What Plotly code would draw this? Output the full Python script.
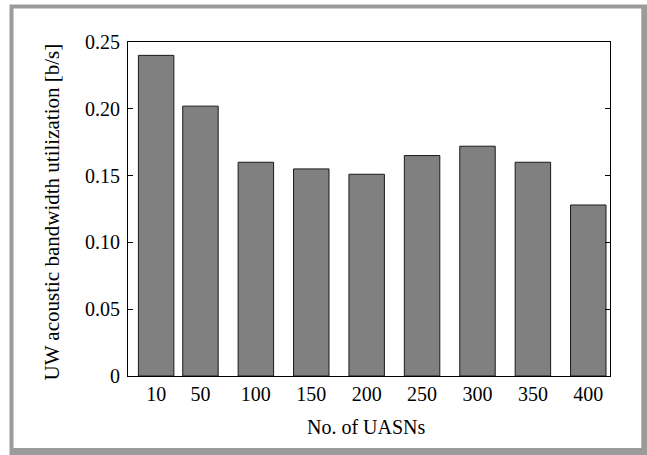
import plotly.graph_objects as go

# Number of UASNs and the measured UW acoustic bandwidth utilization
uasn_counts = [10, 50, 100, 150, 200, 250, 300, 350, 400]
utilization = [0.240, 0.202, 0.160, 0.155, 0.151, 0.165, 0.172, 0.160, 0.128]

y_tick_vals = [0, 0.05, 0.10, 0.15, 0.20, 0.25]
y_tick_text = ["0", "0.05", "0.10", "0.15", "0.20", "0.25"]

W, H = 647, 455
ML, MR, MT, MB = 128, 37, 42, 79
PW, PH = W - ML - MR, H - MT - MB


def px_x(px):
    return (px - ML) / PW


def px_y(py):
    return (H - MB - py) / PH


FONT = "Liberation Serif, Times New Roman, serif"

fig = go.Figure(
    go.Bar(
        x=uasn_counts,
        y=utilization,
        width=32,
        marker=dict(color="#808080", line=dict(color="#1a1a1a", width=1)),
    )
)

fig.update_layout(
    width=W,
    height=H,
    margin=dict(l=ML, r=MR, t=MT, b=MB, pad=0),
    paper_bgcolor="white",
    plot_bgcolor="white",
    showlegend=False,
    font=dict(family=FONT, size=20, color="black"),
    xaxis=dict(
        range=[-15.4, 419.6],
        tickmode="array",
        tickvals=uasn_counts,
        ticktext=[str(v) for v in uasn_counts],
        ticks="",
        showline=True,
        linecolor="black",
        linewidth=1,
        mirror=True,
        showgrid=False,
        zeroline=False,
        tickfont=dict(family=FONT, size=20),
    ),
    yaxis=dict(
        range=[0, 0.25],
        tickmode="array",
        tickvals=y_tick_vals,
        ticktext=y_tick_text,
        ticks="inside",
        ticklen=5,
        tickcolor="black",
        ticklabelstandoff=3,
        showline=True,
        linecolor="black",
        linewidth=1,
        mirror="ticks",
        showgrid=False,
        zeroline=False,
        tickfont=dict(family=FONT, size=20),
    ),
    annotations=[
        dict(
            text="No. of UASNs",
            xref="paper", yref="paper",
            x=px_x(366), y=px_y(427),
            xanchor="center", yanchor="middle",
            showarrow=False,
            font=dict(family=FONT, size=20),
        ),
        dict(
            text="UW acoustic bandwidth utilization [b/s]",
            xref="paper", yref="paper",
            x=px_x(51.5), y=px_y(212),
            xanchor="center", yanchor="middle",
            textangle=-90,
            showarrow=False,
            font=dict(family=FONT, size=21),
        ),
    ],
    shapes=[
        # grey outer frame around the figure
        dict(
            type="rect", xref="paper", yref="paper", layer="below",
            x0=px_x(9.5), x1=px_x(648), y0=px_y(456), y1=px_y(4.5),
            fillcolor="#9b9b9b", line=dict(width=0),
        ),
        dict(
            type="rect", xref="paper", yref="paper", layer="below",
            x0=px_x(13.5), x1=px_x(641.3), y0=px_y(448), y1=px_y(8.5),
            fillcolor="white", line=dict(width=0),
        ),
    ],
)

fig.write_html("out.html")
